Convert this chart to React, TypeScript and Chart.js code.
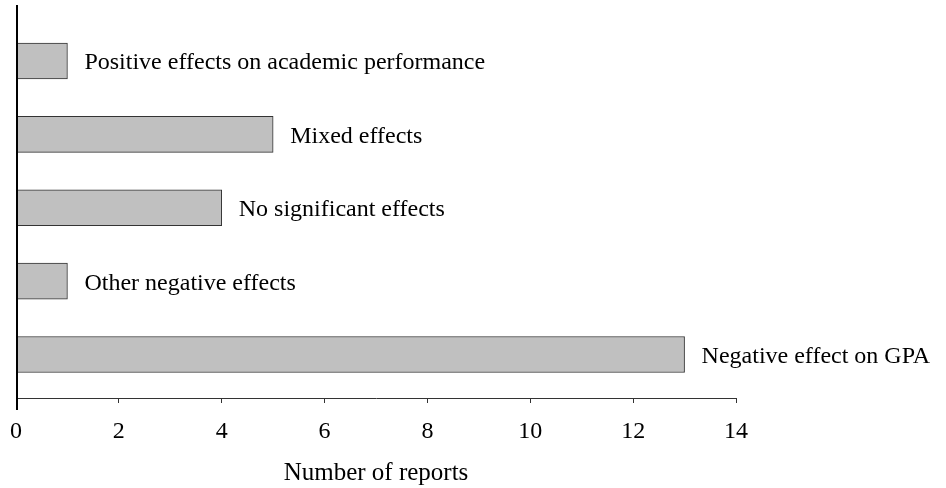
import React, { useEffect, useRef } from "react";
import { Chart, registerables } from "chart.js";

Chart.register(...registerables);

const categories = [
  "Positive effects on academic performance",
  "Mixed effects",
  "No significant effects",
  "Other negative effects",
  "Negative effect on GPA",
];
const reportCounts = [1, 5, 4, 1, 13];
const xTickValues = [0, 2, 4, 6, 8, 10, 12, 14];
const xAxisTitle = "Number of reports";

const FONT = "'Liberation Serif', 'Times New Roman', serif";

const labelPlugin = {
  id: "barLabels",
  afterDatasetsDraw(chart: any) {
    const ctx = chart.ctx;
    const meta = chart.getDatasetMeta(0);
    ctx.save();
    ctx.font = `24px ${FONT}`;
    ctx.fillStyle = "#000";
    ctx.textAlign = "left";
    ctx.textBaseline = "alphabetic";
    meta.data.forEach((bar: any, i: number) => {
      ctx.fillText(categories[i], bar.x + 17, bar.y + 8.5);
    });
    ctx.restore();
  },
  afterDraw(chart: any) {
    const ctx = chart.ctx;
    const a = chart.chartArea;
    ctx.save();
    ctx.strokeStyle = "#000";
    ctx.lineWidth = 2;
    ctx.beginPath();
    ctx.moveTo(a.left + 1, a.top);
    ctx.lineTo(a.left + 1, a.bottom + 12);
    ctx.stroke();
    ctx.restore();
  },
};

export default function App() {
  const ref = useRef<HTMLCanvasElement | null>(null);
  useEffect(() => {
    if (!ref.current) return;
    const chart = new Chart(ref.current, {
      type: "bar",
      data: {
        datasets: [
          {
            data: reportCounts.map((v, i) => ({ x: v, y: i })) as any,
            backgroundColor: "#c0c0c0",
            borderColor: "#333333",
            borderWidth: 1,
            borderSkipped: false,
            barThickness: 36,
          },
        ],
      },
      options: {
        indexAxis: "y",
        animation: false,
        responsive: true,
        maintainAspectRatio: false,
        layout: { padding: { left: 16, right: 210, top: 5, bottom: 0 } },
        plugins: { legend: { display: false }, tooltip: { enabled: false } },
        scales: {
          x: {
            type: "linear",
            min: 0,
            max: 14,
            afterBuildTicks: (scale: any) => {
              scale.ticks = xTickValues.map((v) => ({ value: v }));
            },
            afterFit: (scale: any) => {
              scale.height = 90;
              scale.paddingLeft = 0;
              scale.paddingRight = 0;
            },
            ticks: {
              color: "#000",
              font: { family: FONT, size: 24 },
              padding: 14,
            },
            grid: {
              display: true,
              drawOnChartArea: false,
              drawTicks: true,
              tickLength: 5,
              color: "#333333",
              lineWidth: 1,
            },
            border: { display: true, color: "#333333", width: 1 },
            title: {
              display: true,
              text: xAxisTitle,
              color: "#000",
              font: { family: FONT, size: 25 },
              padding: { top: 0, bottom: 0 },
            },
          },
          y: {
            type: "linear",
            display: false,
            reverse: true,
            offset: false,
            min: -0.763,
            max: 4.593,
          },
        },
      },
      plugins: [labelPlugin],
    });
    return () => chart.destroy();
  }, []);
  return (
    <div style={{ position: "absolute", left: 0, top: 0, width: 946, height: 488 }}>
      <canvas ref={ref} />
    </div>
  );
}
